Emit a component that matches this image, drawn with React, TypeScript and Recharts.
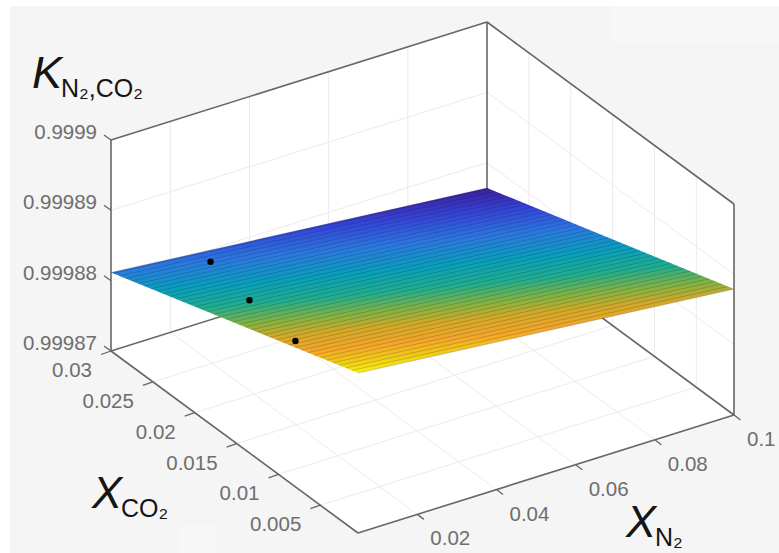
import { Scatter, ScatterChart, XAxis, YAxis } from 'recharts';

const WIDTH = 779;
const HEIGHT = 553;

// axis ranges of the 3D box
const n2Range = [0.005, 0.1];
const co2Range = [0.0005, 0.03];
const kRange = [0.99987, 0.9999];

const n2Ticks = [0.02, 0.04, 0.06, 0.08, 0.1];
const co2Ticks = [0.005, 0.01, 0.015, 0.02, 0.025, 0.03];
const kTicks = [0.99987, 0.99988, 0.99989, 0.9999];

const n2TickLabels = ['0.02', '0.04', '0.06', '0.08', '0.1'];
const co2TickLabels = ['0.005', '0.01', '0.015', '0.02', '0.025', '0.03'];
const kTickLabels = ['0.99987', '0.99988', '0.99989', '0.9999'];

// mesh rows of the surface: XCO2 and K at both XN2 ends (K given as 1e-5 above 0.99987)
const meshCo2 = [
  0.0005, 0.00125, 0.002, 0.00275, 0.0035, 0.00425, 0.005, 0.00575, 0.0065, 0.00725, 0.008, 0.00875, 0.0095, 0.01025,
  0.011, 0.01175, 0.0125, 0.01325, 0.014, 0.01475, 0.0155, 0.01625, 0.017, 0.01775, 0.0185, 0.01925, 0.02, 0.02075,
  0.0215, 0.02225, 0.023, 0.02375, 0.0245, 0.02525, 0.026, 0.02675, 0.0275, 0.02825, 0.029, 0.02975, 0.03,
];
const meshKLowN2 = [
  2.275, 2.246, 2.216, 2.187, 2.157, 2.128, 2.098, 2.069, 2.039, 2.01, 1.98, 1.951, 1.921, 1.892, 1.863, 1.833, 1.804,
  1.774, 1.745, 1.715, 1.686, 1.656, 1.627, 1.597, 1.568, 1.539, 1.509, 1.48, 1.45, 1.421, 1.391, 1.362, 1.332, 1.303,
  1.273, 1.244, 1.214, 1.185, 1.156, 1.126, 1.116,
];
const meshKHighN2 = [
  1.79, 1.761, 1.732, 1.702, 1.673, 1.644, 1.615, 1.585, 1.556, 1.527, 1.498, 1.468, 1.439, 1.41, 1.381, 1.351, 1.322,
  1.293, 1.264, 1.234, 1.205, 1.176, 1.147, 1.117, 1.088, 1.059, 1.03, 1.0, 0.971, 0.942, 0.913, 0.884, 0.854, 0.825,
  0.796, 0.767, 0.737, 0.708, 0.679, 0.65, 0.64,
];

// the three black measured points
const pointN2 = [0.0255, 0.0165, 0.0076];
const pointCo2 = [0.0278, 0.0189, 0.0092];
const pointK = [0.999881, 0.99988493, 0.9998892];

const surfaceStops = [
  [0, '#3a1f9e'],
  [0.14, '#3446d8'],
  [0.28, '#2a7ae0'],
  [0.42, '#08a0bc'],
  [0.54, '#1fae90'],
  [0.65, '#80b444'],
  [0.74, '#d2aa28'],
  [0.84, '#f4a62a'],
  [0.92, '#f0cc18'],
  [1, '#f6f60e'],
] as const;

type Pt = { x: number; y: number };

// orthographic view of the box, anchored on the floor corners
function project(n2: number, co2: number, k: number): Pt {
  const u = (n2 - n2Range[0]) / (n2Range[1] - n2Range[0]);
  const v = (co2 - co2Range[0]) / (co2Range[1] - co2Range[0]);
  const w = (k - kRange[0]) / (kRange[1] - kRange[0]);
  return { x: 358 + 376 * u - 247 * v, y: 533 - 118 * u - 182 * v - 211 * w };
}

const kFromOffset = (offset: number) => kRange[0] + offset * 1e-5;
const [n0, n1] = n2Range;
const [c0, c1] = co2Range;
const [k0, k1] = kRange;
const last = meshCo2.length - 1;

const surfaceFront = project(n0, meshCo2[0], kFromOffset(meshKLowN2[0]));
const surfaceRight = project(n1, meshCo2[0], kFromOffset(meshKHighN2[0]));
const surfaceBack = project(n1, meshCo2[last], kFromOffset(meshKHighN2[last]));
const surfaceLeft = project(n0, meshCo2[last], kFromOffset(meshKLowN2[last]));

// gradient axis: perpendicular to the K iso-lines on screen
function gradientEnd(): Pt {
  const a = { x: surfaceLeft.x - surfaceBack.x, y: surfaceLeft.y - surfaceBack.y };
  const b = { x: surfaceRight.x - surfaceBack.x, y: surfaceRight.y - surfaceBack.y };
  const da = meshKLowN2[last] - meshKHighN2[last];
  const db = meshKHighN2[0] - meshKHighN2[last];
  const det = a.x * b.y - a.y * b.x;
  const gx = (da * b.y - a.y * db) / det;
  const gy = (a.x * db - da * b.x) / det;
  const span = meshKLowN2[0] - meshKHighN2[last];
  const f = span / (gx * gx + gy * gy);
  return { x: surfaceBack.x + gx * f, y: surfaceBack.y + gy * f };
}
const gradEnd = gradientEnd();

const gridSegments: Pt[][] = [
  ...n2Ticks.filter(n => n < n1).flatMap(n => [
    [project(n, c0, k0), project(n, c1, k0)],
    [project(n, c1, k0), project(n, c1, k1)],
  ]),
  ...co2Ticks.filter(c => c < c1).flatMap(c => [
    [project(n0, c, k0), project(n1, c, k0)],
    [project(n1, c, k0), project(n1, c, k1)],
  ]),
  ...kTicks.slice(1, -1).flatMap(k => [
    [project(n0, c1, k), project(n1, c1, k)],
    [project(n1, c1, k), project(n1, c0, k)],
  ]),
];

const boxSegments: Pt[][] = [
  [project(n0, c1, k0), project(n0, c1, k1)],
  [project(n0, c1, k1), project(n1, c1, k1)],
  [project(n1, c1, k1), project(n1, c0, k1)],
  [project(n1, c0, k1), project(n1, c0, k0)],
  [project(n1, c1, k0), project(n1, c1, k1)],
  [project(n0, c1, k0), project(n1, c1, k0)],
  [project(n1, c1, k0), project(n1, c0, k0)],
  [project(n0, c1, k0), project(n0, c0, k0)],
  [project(n0, c0, k0), project(n1, c0, k0)],
];

const tickLine = (p: Pt, dx: number, dy: number): Pt[] => [p, { x: p.x + dx, y: p.y + dy }];
const tickSegments: Pt[][] = [
  ...kTicks.map(k => tickLine(project(n0, c1, k), -7, -5)),
  ...co2Ticks.map(c => tickLine(project(n0, c, k0), -10, 3.5)),
  ...n2Ticks.map(n => tickLine(project(n, c0, k0), 6.5, 5)),
];

const meshSegments: Pt[][] = meshCo2.map((c, i) => [
  project(n0, c, kFromOffset(meshKLowN2[i])),
  project(n1, c, kFromOffset(meshKHighN2[i])),
]);

const tickLabels = [
  ...kTicks.map((k, i) => {
    const p = project(n0, c1, k);
    return { x: p.x - 14, y: p.y - 1, text: kTickLabels[i], anchor: 'end' };
  }),
  ...co2Ticks.map((c, i) => {
    const p = project(n0, c, k0);
    return { x: p.x - 19, y: p.y + 26, text: co2TickLabels[i], anchor: 'end' };
  }),
  ...n2Ticks.map((n, i) => {
    const p = project(n, c0, k0);
    return { x: p.x + 13, y: p.y + 31, text: n2TickLabels[i], anchor: 'start' };
  }),
];

const axisTitles = [
  { x: 32, y: 88, main: 'K', sub: 'N₂,CO₂' },
  { x: 92, y: 508, main: 'X', sub: 'CO₂' },
  { x: 626, y: 537, main: 'X', sub: 'N₂' },
];

const points = pointN2.map((n, i) => project(n, pointCo2[i], pointK[i]));

const noDot = () => <g />;

function polygonShape(corners: Pt[], fill: string) {
  return (props: any) => {
    const dx = props.cx - corners[0].x;
    const dy = props.cy - corners[0].y;
    const d = corners.map(p => `${p.x + dx},${p.y + dy}`).join(' ');
    return <polygon points={d} fill={fill} />;
  };
}

function LabelShape(props: any) {
  const { cx, cy, payload } = props;
  return (
    <text x={cx} y={cy} textAnchor={payload.anchor} fontFamily="Liberation Sans" fontSize={20.5} fill="#6e6e6e">
      {payload.text}
    </text>
  );
}

function TitleShape(props: any) {
  const { cx, cy, payload } = props;
  return (
    <text x={cx} y={cy} fontFamily="Liberation Sans" fill="#151515">
      <tspan fontSize={45} fontStyle="italic">
        {payload.main}
      </tspan>
      <tspan fontSize={25} dy={9} dx={-1}>
        {payload.sub}
      </tspan>
    </text>
  );
}

const wallCorners = [
  project(n0, c1, k0),
  project(n0, c1, k1),
  project(n1, c1, k1),
  project(n1, c0, k1),
  project(n1, c0, k0),
  project(n0, c0, k0),
];
const surfaceCorners = [surfaceFront, surfaceRight, surfaceBack, surfaceLeft];

function segmentSeries(segments: Pt[][], prefix: string, stroke: string, strokeWidth: number) {
  return segments.map((segment, i) => (
    <Scatter
      key={`${prefix}-${i}`}
      data={segment}
      line={{ stroke, strokeWidth }}
      shape={noDot}
      isAnimationActive={false}
    />
  ));
}

export default function App() {
  return (
    <div style={{ position: 'absolute', left: 0, top: 0, width: WIDTH, height: HEIGHT, background: '#fff' }}>
      <div style={{ position: 'absolute', left: 10, top: 6, right: 0, bottom: 0, background: '#f5f5f5' }} />
      <div style={{ position: 'absolute', left: 612, top: 6, right: 0, height: 37, background: '#f7f7f7' }} />
      <div style={{ position: 'absolute', left: 180, top: 525, width: 35, bottom: 0, background: '#f7f7f7' }} />
      <div style={{ position: 'absolute', left: 0, top: 0 }}>
        <ScatterChart width={WIDTH} height={HEIGHT} margin={{ top: 0, right: 0, bottom: 0, left: 0 }}>
          <defs>
            <linearGradient
              id="surfaceFill"
              gradientUnits="userSpaceOnUse"
              x1={surfaceBack.x}
              y1={surfaceBack.y}
              x2={gradEnd.x}
              y2={gradEnd.y}
            >
              {surfaceStops.map(([offset, color]) => (
                <stop key={offset} offset={offset} stopColor={color} />
              ))}
            </linearGradient>
          </defs>
          <XAxis type="number" dataKey="x" domain={[0, WIDTH]} hide />
          <YAxis type="number" dataKey="y" domain={[0, HEIGHT]} reversed hide />
          <Scatter data={[wallCorners[0]]} shape={polygonShape(wallCorners, '#ffffff')} isAnimationActive={false} />
          {segmentSeries(gridSegments, 'grid', '#ebebeb', 1)}
          {segmentSeries(boxSegments, 'box', '#666666', 1.6)}
          {segmentSeries(tickSegments, 'tick', '#666666', 1.3)}
          <Scatter
            data={[surfaceCorners[0]]}
            shape={polygonShape(surfaceCorners, 'url(#surfaceFill)')}
            isAnimationActive={false}
          />
          {segmentSeries(meshSegments, 'mesh', 'rgba(40,20,30,0.2)', 1)}
          <Scatter data={points} shape={(p: any) => <circle cx={p.cx} cy={p.cy} r={3.2} fill="#000" />} isAnimationActive={false} />
          <Scatter data={tickLabels} shape={LabelShape} isAnimationActive={false} />
          <Scatter data={axisTitles} shape={TitleShape} isAnimationActive={false} />
        </ScatterChart>
      </div>
    </div>
  );
}
